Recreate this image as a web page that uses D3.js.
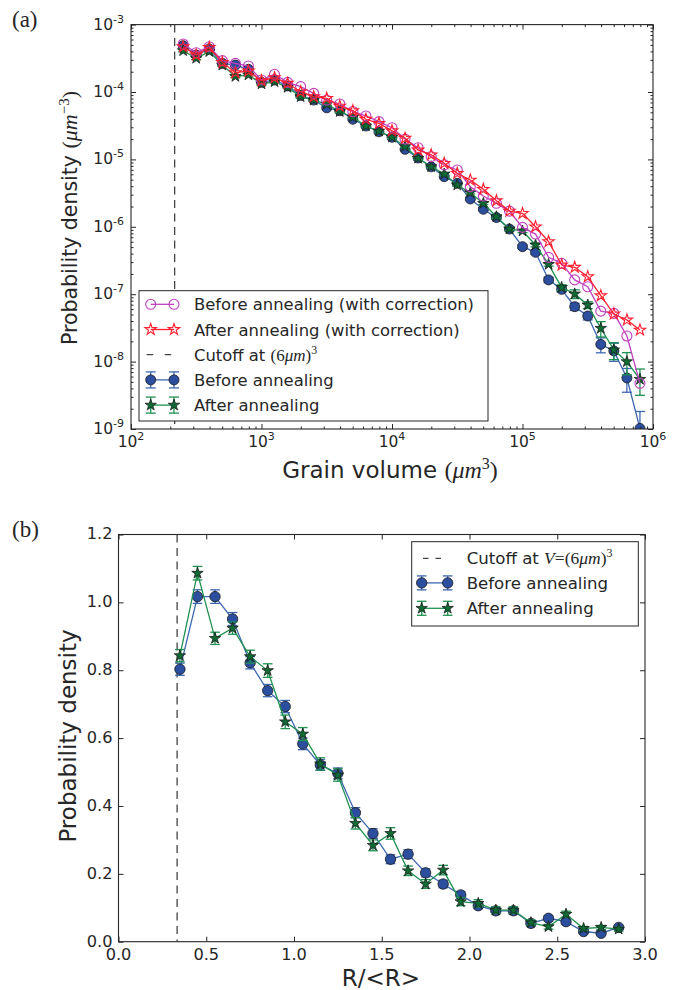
<!DOCTYPE html>
<html><head><meta charset="utf-8">
<script src="https://cdn.jsdelivr.net/npm/d3@7"></script>
<style>
body{margin:0;background:#fff}
svg{display:block}
text{font-family:"DejaVu Sans",sans-serif;fill:#262626}
.m{font-family:"Liberation Serif","DejaVu Serif",serif}
</style>
</head><body>
<svg id="c" width="684" height="990"></svg>
<script>
// ---------- data: panel (a) ----------
const volume = [251,316,398,501,631,794,1000,1259,1585,1995,2512,3162,3981,5012,6310,7943,10000,12589,15849,19953,25119,31623,39811,50119,63096,79433,100000,125893,158489,199526,251189,316228,398107,501187,630957,794328];
const beforeCorr = [5.15e-4,3.83e-4,4.70e-4,2.92e-4,2.66e-4,2.43e-4,1.51e-4,1.83e-4,1.39e-4,1.20e-4,9.55e-5,7.59e-5,6.64e-5,5.13e-5,4.41e-5,3.63e-5,2.95e-5,2.0e-5,1.49e-5,1.10e-5,8.32e-6,6.97e-6,3.94e-6,2.86e-6,2.23e-6,1.71e-6,9.8e-7,7.8e-7,3.52e-7,2.87e-7,1.63e-7,1.29e-7,5.6e-8,5.2e-8,2.4e-8,4.76e-9];
const afterCorr = [4.70e-4,3.55e-4,4.57e-4,2.75e-4,1.94e-4,2.05e-4,1.47e-4,1.63e-4,1.35e-4,1.01e-4,8.51e-5,8.05e-5,6.17e-5,5.28e-5,3.94e-5,3.43e-5,2.66e-5,2.06e-5,1.38e-5,1.17e-5,8.75e-6,6.21e-6,4.94e-6,3.60e-6,2.44e-6,1.71e-6,1.58e-6,1.0e-6,6.03e-7,2.71e-7,2.51e-7,1.82e-7,9.5e-8,5.08e-8,4.14e-8,2.94e-8];
const beforeA = [4.86e-4,3.54e-4,4.35e-4,2.66e-4,2.51e-4,2.17e-4,1.39e-4,1.51e-4,1.23e-4,8.91e-5,7.59e-5,5.82e-5,5.28e-5,3.94e-5,3.13e-5,2.57e-5,2.13e-5,1.41e-5,1.05e-5,7.76e-6,5.55e-6,4.42e-6,2.59e-6,1.82e-6,1.37e-6,9.27e-7,5.07e-7,4.18e-7,1.63e-7,1.18e-7,6.53e-8,4.75e-8,1.80e-8,1.44e-8,5.71e-9,1.02e-9];
const beforeErrA = [2.0e-5,1.4e-5,1.7e-5,1.0e-5,9.5e-6,8e-6,5e-6,5.2e-6,4.2e-6,3e-6,2.5e-6,1.9e-6,1.7e-6,1.3e-6,1.0e-6,8.3e-7,7e-7,4.7e-7,3.6e-7,2.8e-7,2.2e-7,1.8e-7,1.1e-7,8.5e-8,6.8e-8,5e-8,3.3e-8,2.9e-8,1.5e-8,1.0e-8,8e-9,6e-9,4.5e-9,4.3e-9,2.2e-9,8e-10];
const afterA = [4.10e-4,3.16e-4,3.98e-4,2.51e-4,1.70e-4,1.79e-4,1.32e-4,1.42e-4,1.17e-4,8.51e-5,7.59e-5,6.61e-5,5.13e-5,4.22e-5,3.13e-5,2.63e-5,2.13e-5,1.55e-5,1.04e-5,7.80e-6,6.07e-6,4.17e-6,3.21e-6,2.23e-6,1.41e-6,9.27e-7,8.67e-7,5.37e-7,2.77e-7,1.26e-7,1.01e-7,6.92e-8,3.12e-8,1.49e-8,9.98e-9,5.46e-9];
const afterErrA = [1.7e-5,1.3e-5,1.6e-5,1.0e-5,7e-6,7e-6,5e-6,5e-6,4e-6,3e-6,2.5e-6,2.2e-6,1.7e-6,1.4e-6,1.0e-6,8.5e-7,7e-7,5e-7,3.6e-7,2.8e-7,2.4e-7,1.8e-7,1.4e-7,1.0e-7,7e-8,5e-8,4.5e-8,3.3e-8,1.6e-8,1.2e-8,1.5e-8,8e-9,8e-9,4.2e-9,3.6e-9,2.3e-9];
const cutoffVolume = 216;
const xTicksA = [1e2,1e3,1e4,1e5,1e6];
const xTickExpA = ["2","3","4","5","6"];
const yTicksA = [1e-9,1e-8,1e-7,1e-6,1e-5,1e-4,1e-3];
const yTickExpA = ["-9","-8","-7","-6","-5","-4","-3"];

// ---------- data: panel (b) ----------
const ratio = [0.35,0.45,0.55,0.65,0.75,0.85,0.95,1.05,1.15,1.25,1.35,1.45,1.55,1.65,1.75,1.85,1.95,2.05,2.15,2.25,2.35,2.45,2.55,2.65,2.75,2.85];
const beforeB = [0.803,1.017,1.017,0.951,0.822,0.740,0.693,0.583,0.521,0.496,0.380,0.319,0.243,0.258,0.203,0.170,0.138,0.106,0.091,0.091,0.054,0.069,0.059,0.030,0.025,0.042];
const beforeErrB = [0.018,0.02,0.02,0.019,0.018,0.018,0.018,0.017,0.016,0.016,0.015,0.014,0.013,0.013,0.012,0.011,0.01,0.009,0.009,0.009,0.007,0.008,0.007,0.005,0.005,0.006];
const afterB = [0.843,1.086,0.894,0.924,0.840,0.799,0.648,0.612,0.524,0.491,0.349,0.284,0.319,0.209,0.170,0.211,0.118,0.113,0.093,0.093,0.056,0.044,0.081,0.039,0.042,0.037];
const afterErrB = [0.018,0.02,0.018,0.018,0.019,0.02,0.02,0.019,0.018,0.018,0.017,0.016,0.017,0.014,0.013,0.014,0.012,0.011,0.01,0.01,0.008,0.007,0.009,0.006,0.006,0.006];
const cutoffRatio = 0.334;
const xTicksB = [0,0.5,1.0,1.5,2.0,2.5,3.0];
const yTicksB = [0,0.2,0.4,0.6,0.8,1.0,1.2];

// ---------- styles ----------
const C = {
  purple:"#bf3fbf", red:"#ff1f2f",
  blueLine:"#3e67b1", blueFill:"#2b4e9e",
  greenLine:"#1f9150", greenFill:"#0e6b33",
  edge:"#1a1a1a", axis:"#262626", dash:"#444"
};

const svg = d3.select("#c");
const star = r => d3.symbol(d3.symbolStar, r*r/0.8908130915292852)();
const circ = r => d3.symbol(d3.symbolCircle, Math.PI*r*r)();

function frameAxes(g, x, y, box, xMaj, yMaj, xMin, yMin){
  const mk = (axis, vals, size, tr) => {
    const a = g.append("g").attr("transform", tr)
      .call(axis.tickValues(vals).tickSize(size).tickFormat(""));
    a.select(".domain").remove();
    a.selectAll("line").attr("stroke", C.axis).attr("stroke-width", 1);
  };
  [[xMaj,5],[xMin,2.5]].forEach(([v,s])=>{ if(!v) return;
    mk(d3.axisBottom(x), v, -s, `translate(0,${box.b})`);
    mk(d3.axisTop(x), v, -s, `translate(0,${box.t})`);
  });
  [[yMaj,5],[yMin,2.5]].forEach(([v,s])=>{ if(!v) return;
    mk(d3.axisLeft(y), v, -s, `translate(${box.l},0)`);
    mk(d3.axisRight(y), v, -s, `translate(${box.r},0)`);
  });
  g.append("rect").attr("x",box.l).attr("y",box.t)
    .attr("width",box.r-box.l).attr("height",box.b-box.t)
    .attr("fill","none").attr("stroke",C.axis).attr("stroke-width",1.1);
}

function errSeries(g, x, y, xs, ys, es, lineC, fillC, shape, r, capW, yMin){
  const pts = xs.map((v,i)=>({x:v,y:ys[i],e:es?es[i]:0}));
  g.append("path").datum(pts).attr("fill","none").attr("stroke",lineC).attr("stroke-width",1.3)
    .attr("d", d3.line().x(d=>x(d.x)).y(d=>y(d.y)));
  if(es){
    const eg = g.append("g").attr("stroke",lineC).attr("stroke-width",1.3);
    pts.forEach(d=>{
      const lo = Math.max(d.y-d.e, yMin), hi = d.y+d.e;
      const px = x(d.x);
      eg.append("line").attr("x1",px).attr("x2",px).attr("y1",y(lo)).attr("y2",y(hi));
      eg.append("line").attr("x1",px-capW).attr("x2",px+capW).attr("y1",y(hi)).attr("y2",y(hi));
      if(d.y-d.e > yMin) eg.append("line").attr("x1",px-capW).attr("x2",px+capW).attr("y1",y(lo)).attr("y2",y(lo));
    });
  }
  g.append("g").selectAll("path").data(pts).join("path")
    .attr("transform", d=>`translate(${x(d.x)},${y(d.y)})`)
    .attr("d", shape==="star"?star(r):circ(r))
    .attr("fill", fillC)
    .attr("stroke", fillC==="none"?lineC:C.edge)
    .attr("stroke-width", fillC==="none"?1.1:0.8);
}

// ================= Panel (a) =================
const A = {l:131, r:653, t:24.6, b:429};
const xA = d3.scaleLog().domain([1e2,1e6]).range([A.l,A.r]);
const yA = d3.scaleLog().domain([1e-9,1e-3]).range([A.b,A.t]);
const gA = svg.append("g");
svg.append("defs").append("clipPath").attr("id","clipA").append("rect")
  .attr("x",A.l).attr("y",A.t).attr("width",A.r-A.l).attr("height",A.b-A.t);
const pA = gA.append("g").attr("clip-path","url(#clipA)");

pA.append("line").attr("x1",xA(cutoffVolume)).attr("x2",xA(cutoffVolume))
  .attr("y1",A.t).attr("y2",A.b).attr("stroke",C.dash).attr("stroke-width",1.3)
  .attr("stroke-dasharray","8,5.5");

errSeries(pA, xA, yA, volume, beforeA, beforeErrA, C.blueLine, C.blueFill, "circle", 5, 5, 1e-10);
errSeries(pA, xA, yA, volume, afterA, afterErrA, C.greenLine, C.greenFill, "star", 6, 5, 1e-10);
errSeries(pA, xA, yA, volume, beforeCorr, null, C.purple, "none", "circle", 5, 0, 1e-10);
errSeries(pA, xA, yA, volume, afterCorr, null, C.red, "none", "star", 6, 0, 1e-10);

const xMinA = xA.ticks().filter(v=>!xTicksA.includes(v));
const yMinA = yA.ticks().filter(v=>!yTicksA.some(t=>Math.abs(t-v)/t<1e-6));
frameAxes(gA, xA, yA, A, xTicksA, yTicksA, xMinA, yMinA);

// tick labels (a)
xTicksA.forEach((v,i)=>{
  const t = gA.append("text").attr("x",xA(v)).attr("y",A.b+18).attr("text-anchor","middle").attr("font-size",15.5);
  t.append("tspan").text("10");
  t.append("tspan").attr("dy",-7).attr("font-size",11).text(xTickExpA[i]);
});
yTicksA.forEach((v,i)=>{
  const t = gA.append("text").attr("x",A.l-7).attr("y",yA(v)+5).attr("text-anchor","end").attr("font-size",15.5);
  t.append("tspan").text("10");
  t.append("tspan").attr("dy",-7).attr("font-size",11).text(yTickExpA[i]);
});

// axis labels (a)
{
  const t = gA.append("text").attr("transform","translate(77,218) rotate(-90)").attr("text-anchor","middle").attr("font-size",20.5);
  t.append("tspan").text("Probability density ");
  t.append("tspan").attr("class","m").attr("font-size",22).text("(");
  t.append("tspan").attr("class","m").attr("font-size",22).attr("font-style","italic").text("μm");
  t.append("tspan").attr("class","m").attr("font-size",15).attr("dy",-8).text("−3");
  t.append("tspan").attr("class","m").attr("font-size",22).attr("dy",8).text(")");
}
{
  const t = gA.append("text").attr("x",390).attr("y",478).attr("text-anchor","middle").attr("font-size",23);
  t.append("tspan").text("Grain volume ");
  t.append("tspan").attr("class","m").attr("font-size",24).text("(");
  t.append("tspan").attr("class","m").attr("font-size",24).attr("font-style","italic").text("μm");
  t.append("tspan").attr("class","m").attr("font-size",16).attr("dy",-9).text("3");
  t.append("tspan").attr("class","m").attr("font-size",24).attr("dy",9).text(")");
}
svg.append("text").attr("class","m").attr("x",12).attr("y",27).attr("font-size",23).text("(a)");

// legend (a)
{
  const L = gA.append("g");
  L.append("rect").attr("x",139).attr("y",290.7).attr("width",349).attr("height",130.3)
    .attr("fill","#fff").attr("stroke",C.axis).attr("stroke-width",1);
  const rows = [304.3,329.5,354.7,379.9,405.1];
  const x1 = 150.7, x2 = 174;
  const seg = (y,c)=>L.append("line").attr("x1",x1).attr("x2",x2).attr("y1",y).attr("y2",y).attr("stroke",c).attr("stroke-width",1.3);
  const mark = (y,shape,r,fill,stroke,sw)=>[x1,x2].forEach(x=>L.append("path").attr("transform",`translate(${x},${y})`)
    .attr("d",shape==="star"?star(r):circ(r)).attr("fill",fill).attr("stroke",stroke).attr("stroke-width",sw));
  const caps = (y,c,h)=>[x1,x2].forEach(x=>{
    L.append("line").attr("x1",x).attr("x2",x).attr("y1",y-h).attr("y2",y+h).attr("stroke",c).attr("stroke-width",1.3);
    [y-h,y+h].forEach(yy=>L.append("line").attr("x1",x-5).attr("x2",x+5).attr("y1",yy).attr("y2",yy).attr("stroke",c).attr("stroke-width",1.3));
  });
  seg(rows[0],C.purple); mark(rows[0],"circle",5,"none",C.purple,1.1);
  seg(rows[1],C.red); mark(rows[1],"star",6,"none",C.red,1.1);
  L.append("line").attr("x1",146.7).attr("x2",172).attr("y1",rows[2]).attr("y2",rows[2])
    .attr("stroke",C.dash).attr("stroke-width",1.3).attr("stroke-dasharray","6.5,11.5");
  seg(rows[3],C.blueLine); caps(rows[3],C.blueLine,8); mark(rows[3],"circle",5,C.blueFill,C.edge,0.8);
  seg(rows[4],C.greenLine); caps(rows[4],C.greenLine,8); mark(rows[4],"star",6,C.greenFill,C.edge,0.8);
  const txt = (y)=>L.append("text").attr("x",194).attr("y",y+6).attr("font-size",16.4);
  txt(rows[0]).text("Before annealing (with correction)");
  txt(rows[1]).text("After annealing (with correction)");
  {
    const t = txt(rows[2]);
    t.append("tspan").text("Cutoff at ");
    t.append("tspan").attr("class","m").attr("font-size",17).text("(6");
    t.append("tspan").attr("class","m").attr("font-size",17).attr("font-style","italic").text("μm");
    t.append("tspan").attr("class","m").attr("font-size",17).text(")");
    t.append("tspan").attr("class","m").attr("font-size",12).attr("dy",-7).text("3");
  }
  txt(rows[3]).text("Before annealing");
  txt(rows[4]).text("After annealing");
}

// ================= Panel (b) =================
const B = {l:118.5, r:645, t:534.5, b:941.7};
const xB = d3.scaleLinear().domain([0,3]).range([B.l,B.r]);
const yB = d3.scaleLinear().domain([0,1.2]).range([B.b,B.t]);
const gB = svg.append("g");
gB.append("line").attr("x1",xB(cutoffRatio)).attr("x2",xB(cutoffRatio))
  .attr("y1",B.t).attr("y2",B.b).attr("stroke",C.dash).attr("stroke-width",1.3)
  .attr("stroke-dasharray","8,5.5");
errSeries(gB, xB, yB, ratio, beforeB, beforeErrB, C.blueLine, C.blueFill, "circle", 5.2, 4.8, -1);
errSeries(gB, xB, yB, ratio, afterB, afterErrB, C.greenLine, C.greenFill, "star", 6, 4.8, -1);
frameAxes(gB, xB, yB, B, xTicksB, yTicksB, null, null);

xTicksB.forEach(v=>gB.append("text").attr("x",xB(v)).attr("y",B.b+18.6).attr("text-anchor","middle").attr("font-size",16.2).text(v.toFixed(1)));
yTicksB.forEach(v=>gB.append("text").attr("x",B.l-6).attr("y",yB(v)+4.8).attr("text-anchor","end").attr("font-size",16.2).text(v.toFixed(1)));

gB.append("text").attr("transform","translate(76,736) rotate(-90)").attr("text-anchor","middle").attr("font-size",23).text("Probability density");
gB.append("text").attr("x",381).attr("y",986).attr("text-anchor","middle").attr("font-size",23).text("R/<R>");
svg.append("text").attr("class","m").attr("x",12).attr("y",537).attr("font-size",23).text("(b)");

// legend (b)
{
  const L = gB.append("g");
  L.append("rect").attr("x",411.7).attr("y",541.7).attr("width",226.6).attr("height",84.3)
    .attr("fill","#fff").attr("stroke",C.axis).attr("stroke-width",1);
  const rows = [558.3,582.9,608.3];
  const x1 = 421.7, x2 = 447.7;
  L.append("line").attr("x1",423).attr("x2",441).attr("y1",rows[0]).attr("y2",rows[0])
    .attr("stroke",C.dash).attr("stroke-width",1.3).attr("stroke-dasharray","5.5,7");
  const entry = (y,lc,fc,shape,r)=>{
    L.append("line").attr("x1",x1).attr("x2",x2).attr("y1",y).attr("y2",y).attr("stroke",lc).attr("stroke-width",1.3);
    [x1,x2].forEach(x=>{
      L.append("line").attr("x1",x).attr("x2",x).attr("y1",y-7).attr("y2",y+7).attr("stroke",lc).attr("stroke-width",1.3);
      [y-7,y+7].forEach(yy=>L.append("line").attr("x1",x-4.8).attr("x2",x+4.8).attr("y1",yy).attr("y2",yy).attr("stroke",lc).attr("stroke-width",1.3));
      L.append("path").attr("transform",`translate(${x},${y})`).attr("d",shape==="star"?star(r):circ(r))
        .attr("fill",fc).attr("stroke",C.edge).attr("stroke-width",0.8);
    });
  };
  entry(rows[1],C.blueLine,C.blueFill,"circle",5.2);
  entry(rows[2],C.greenLine,C.greenFill,"star",6);
  const txt = (y)=>L.append("text").attr("x",466.7).attr("y",y+6).attr("font-size",16.6);
  {
    const t = txt(rows[0]);
    t.append("tspan").text("Cutoff at ");
    t.append("tspan").attr("class","m").attr("font-size",17.5).attr("font-style","italic").text("V");
    t.append("tspan").attr("class","m").attr("font-size",17.5).text("=(6");
    t.append("tspan").attr("class","m").attr("font-size",17.5).attr("font-style","italic").text("μm");
    t.append("tspan").attr("class","m").attr("font-size",17.5).text(")");
    t.append("tspan").attr("class","m").attr("font-size",12).attr("dy",-7).text("3");
  }
  txt(rows[1]).text("Before annealing");
  txt(rows[2]).text("After annealing");
}
</script>
</body></html>
